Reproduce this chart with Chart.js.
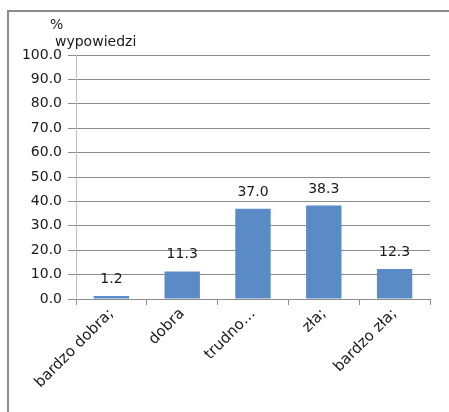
<!DOCTYPE html>
<html>
<head>
<meta charset="utf-8">
<script src="https://cdn.jsdelivr.net/npm/chart.js@4.4.1/dist/chart.umd.min.js"></script>
<style>
  html, body { margin: 0; padding: 0; background: #fff; }
  #wrap { position: relative; width: 449px; height: 412px; overflow: hidden; }
  #frame { position: absolute; left: 7px; top: 10px; width: 460px; height: 420px;
           border-top: 2px solid #8c8c8c; border-left: 2px solid #8c8c8c; box-sizing: border-box; }
  canvas { position: absolute; left: 0; top: 0; }
</style>
</head>
<body>
<div id="wrap">
  <div id="frame"></div>
  <canvas id="c" width="449" height="412"></canvas>
</div>
<script>
const categories = ["bardzo dobra;", "dobra", "trudno…", "zła;", "bardzo zła;"];
const values = [1.2, 11.3, 37.0, 38.3, 12.3];
const axisTitleLines = ["%", "wypowiedzi"];
const yMin = 0, yMax = 100, yStep = 10;

const FONT = "'DejaVu Sans', sans-serif";

const labelPlugin = {
  id: 'valueLabels',
  afterDatasetsDraw(chart) {
    const ctx = chart.ctx;
    const meta = chart.getDatasetMeta(0);
    ctx.save();
    ctx.font = "14px " + FONT;
    ctx.fillStyle = '#1a1a1a';
    ctx.textAlign = 'center';
    ctx.textBaseline = 'alphabetic';
    meta.data.forEach((bar, i) => {
      ctx.fillText(values[i].toFixed(1), bar.x, bar.y - 13);
    });
    ctx.restore();
  }
};

const titlePlugin = {
  id: 'axisTitleTop',
  afterDraw(chart) {
    const ctx = chart.ctx;
    const a = chart.chartArea;
    ctx.save();
    ctx.font = "14px " + FONT;
    ctx.fillStyle = '#1a1a1a';
    ctx.textAlign = 'left';
    ctx.textBaseline = 'middle';
    ctx.fillText(axisTitleLines[0], a.left - 26, a.top - 30);
    ctx.fillText(axisTitleLines[1], a.left - 21, a.top - 13);
    ctx.restore();
  }
};

new Chart(document.getElementById('c'), {
  type: 'bar',
  data: {
    labels: categories,
    datasets: [{
      data: values,
      backgroundColor: '#5B8BC6',
      borderWidth: 0,
      categoryPercentage: 1.0,
      barPercentage: 0.5
    }]
  },
  options: {
    responsive: false,
    animation: false,
    events: [],
    layout: { padding: { left: 0, top: 55, right: 19, bottom: 0 } },
    plugins: { legend: { display: false }, tooltip: { enabled: false }, title: { display: false } },
    scales: {
      x: {
        grid: { display: true, offset: true, drawOnChartArea: false, drawTicks: true, tickLength: 6, color: '#8c8c8c' },
        border: { display: true, color: '#8c8c8c' },
        ticks: {
          autoSkip: false, maxRotation: 45, minRotation: 45, padding: 0,
          font: { family: FONT, size: 15 }, color: '#1a1a1a'
        },
        afterFit(scale) { scale.height = 113; }
      },
      y: {
        min: yMin, max: yMax,
        grid: { color: '#8c8c8c', tickLength: 8, drawTicks: true },
        border: { display: true, color: '#bfbfbf' },
        ticks: {
          stepSize: yStep, padding: 6,
          font: { family: FONT, size: 14 }, color: '#1a1a1a',
          callback: v => Number(v).toFixed(1)
        },
        afterFit(scale) { scale.width = 76; }
      }
    }
  },
  plugins: [labelPlugin, titlePlugin]
});
</script>
</body>
</html>
